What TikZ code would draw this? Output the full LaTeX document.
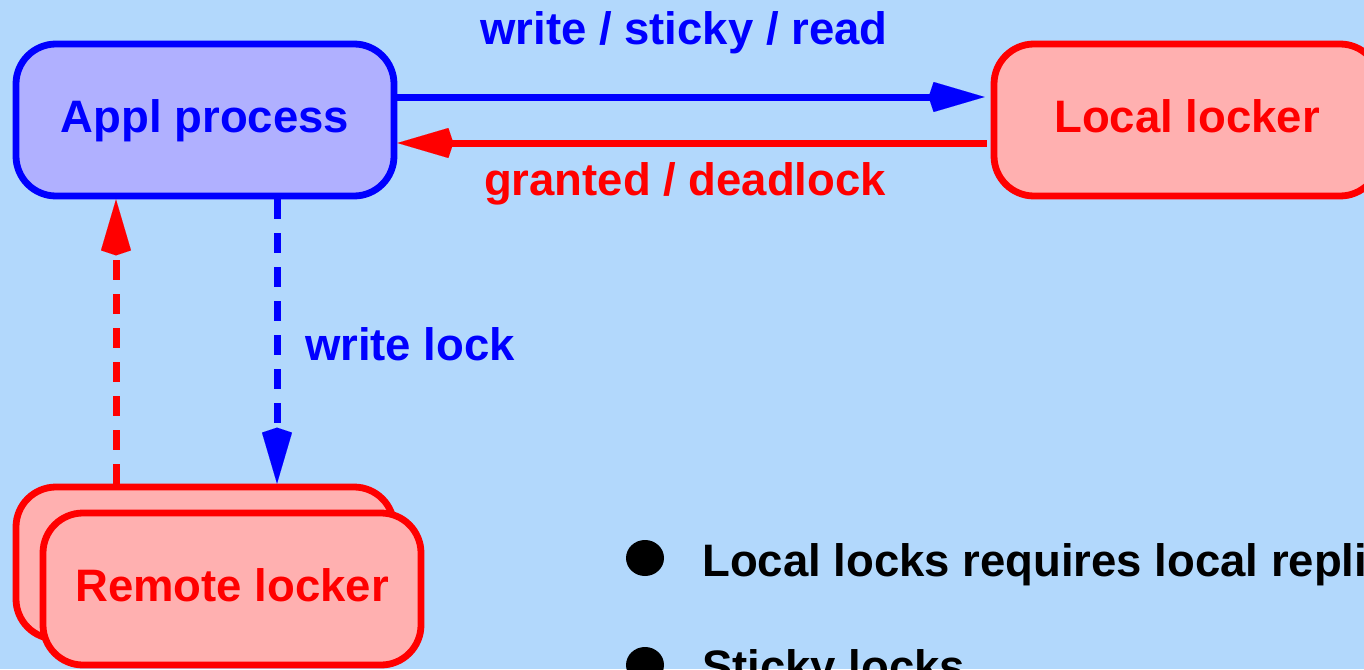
\documentclass[tikz,border=0pt]{standalone}
\usepackage{fontspec}
\setmainfont{Liberation Sans}
\usetikzlibrary{arrows.meta,shapes.geometric}
\definecolor{bg}{RGB}{178,216,252}
\definecolor{applfill}{RGB}{176,176,255}
\definecolor{lockfill}{RGB}{255,176,176}
\begin{document}
\begin{tikzpicture}[x=1pt,y=-1pt,
  every node/.style={font=\fontsize{45.5}{54}\selectfont\bfseries},
  box/.style={draw, line width=6.8pt, rounded corners=40pt, minimum width=378pt,
    minimum height=152pt, inner sep=0pt, text height=33pt, text depth=9pt},
  applbox/.style={box, draw=blue, fill=applfill, text=blue},
  lockbox/.style={box, draw=red, fill=lockfill, text=red},
  conn/.style={line width=7pt,
    -{Kite[length=56pt,width=30pt,inset=5pt,line width=0.01pt]}},
  dashconn/.style={conn, dash pattern=on 20pt off 14pt},
  lbl/.style={anchor=base, inner sep=0pt},
  bullet/.style={ellipse, fill=black, minimum width=38pt, minimum height=36pt, inner sep=0pt},
]
\fill[bg] (0,0) rectangle (1364,669);
\useasboundingbox (0,0) rectangle (1364,669);

% process and lockers
\node[applbox] (appl) at (205,120) {Appl process};
\node[lockbox, minimum width=386pt] (local) at (1187,120) {Local locker};
\node[lockbox] (rback) at (205,563) {};
\node[lockbox] (rfront) at (232,589) {Remote locker};

% requests and replies
\draw[conn, blue, shorten >=6pt] ([yshift=23pt]appl.east) -- ([yshift=23pt]local.west);
\draw[conn, red, shorten <=4pt] ([yshift=-23pt]local.west) -- ([yshift=-23pt]appl.east);
\draw[dashconn, blue] ([xshift=72pt]appl.south) -- ([xshift=72pt]rback.north);
\draw[dashconn, red] ([xshift=-89pt]rback.north) -- ([xshift=-89pt]appl.south);

% connector labels
\node[lbl, text=blue] (lwrite) at (684,45) {write / sticky / read};
\node[lbl, text=red] (lgrant) at (685,195) {granted / deadlock};
\node[lbl, text=blue] (lwlock) at (410,360) {write lock};

% notes
\node[bullet] (b1) at (645,558) {};
\node[lbl, anchor=base west] (t1) at (702,576) {Local locks requires local replica};
\node[bullet] (b2) at (645,665) {};
\node[lbl, anchor=base west] (t2) at (702,682) {Sticky locks};
\end{tikzpicture}
\end{document}
